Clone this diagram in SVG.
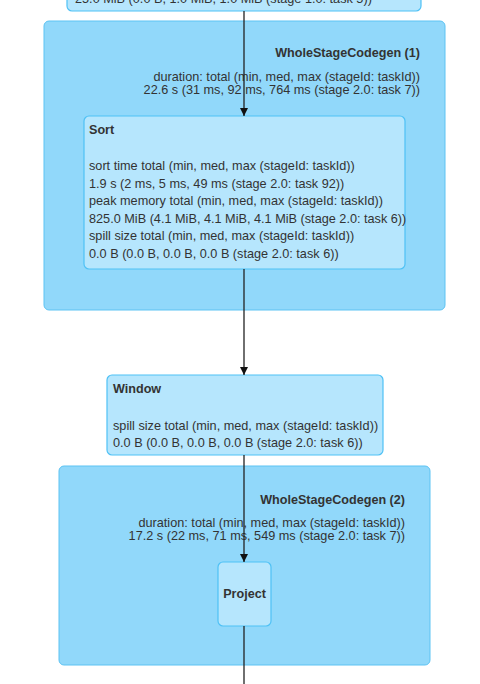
<svg xmlns="http://www.w3.org/2000/svg" width="480" height="684" viewBox="0 0 480 684">
<defs>
<style>
.cluster{fill:#91d8fa;stroke:#5cc3f3;stroke-width:1}
.node{fill:#b6e6fd;stroke:#4fc1f5;stroke-width:1.2}
text{font-family:"Liberation Sans",Arial,sans-serif;font-size:12.7px;fill:#333}
.b{font-weight:bold;font-size:12.6px}
.r{text-anchor:end}
.edge{stroke:#222;stroke-width:1.3;fill:none}
</style>
<marker id="arr" viewBox="0 0 10 10" refX="10" refY="5" markerWidth="8" markerHeight="8" markerUnits="userSpaceOnUse" orient="auto">
<path d="M0,0 L10,5 L0,10 z" fill="#111"/>
</marker>
</defs>
<rect width="480" height="684" fill="#fff"/>
<g id="node-top">
<rect class="node" x="67" y="-20" width="354" height="31" rx="5"/>
<text x="75" y="3">25.0 MiB (0.0 B, 1.0 MiB, 1.0 MiB (stage 1.0: task 5))</text>
</g>
<g id="cluster-wsc1">
<rect class="cluster" x="44" y="21" width="401" height="289" rx="5"/>
<text class="b r" x="420" y="57">WholeStageCodegen (1)</text>
<text class="r" x="420" y="81">duration: total (min, med, max (stageId: taskId))</text>
<text class="r" x="420" y="94">22.6 s (31 ms, 92 ms, 764 ms (stage 2.0: task 7))</text>
</g>
<g id="node-sort">
<rect class="node" x="84" y="116" width="321" height="153" rx="5"/>
<text class="b" x="89" y="134">Sort</text>
<text x="89" y="170">sort time total (min, med, max (stageId: taskId))</text>
<text x="89" y="187.5">1.9 s (2 ms, 5 ms, 49 ms (stage 2.0: task 92))</text>
<text x="89" y="205">peak memory total (min, med, max (stageId: taskId))</text>
<text x="89" y="222.5">825.0 MiB (4.1 MiB, 4.1 MiB, 4.1 MiB (stage 2.0: task 6))</text>
<text x="89" y="240">spill size total (min, med, max (stageId: taskId))</text>
<text x="89" y="257.5">0.0 B (0.0 B, 0.0 B, 0.0 B (stage 2.0: task 6))</text>
</g>
<g id="node-window">
<rect class="node" x="107" y="375" width="276" height="80" rx="5"/>
<text class="b" x="113" y="393">Window</text>
<text x="113" y="430">spill size total (min, med, max (stageId: taskId))</text>
<text x="113" y="447">0.0 B (0.0 B, 0.0 B, 0.0 B (stage 2.0: task 6))</text>
</g>
<g id="cluster-wsc2">
<rect class="cluster" x="59" y="466" width="371" height="199" rx="5"/>
<text class="b r" x="405" y="504">WholeStageCodegen (2)</text>
<text class="r" x="405" y="527">duration: total (min, med, max (stageId: taskId))</text>
<text class="r" x="405" y="540">17.2 s (22 ms, 71 ms, 549 ms (stage 2.0: task 7))</text>
</g>
<g id="node-project">
<rect class="node" x="218" y="562" width="53" height="64" rx="5"/>
<text class="b" x="244.5" y="598" text-anchor="middle">Project</text>
</g>
<g id="edges">
<path class="edge" d="M244,11 V116" marker-end="url(#arr)"/>
<path class="edge" d="M244,269 V375" marker-end="url(#arr)"/>
<path class="edge" d="M244,455 V562" marker-end="url(#arr)"/>
<path class="edge" d="M244,626 V684"/>
</g>
</svg>
